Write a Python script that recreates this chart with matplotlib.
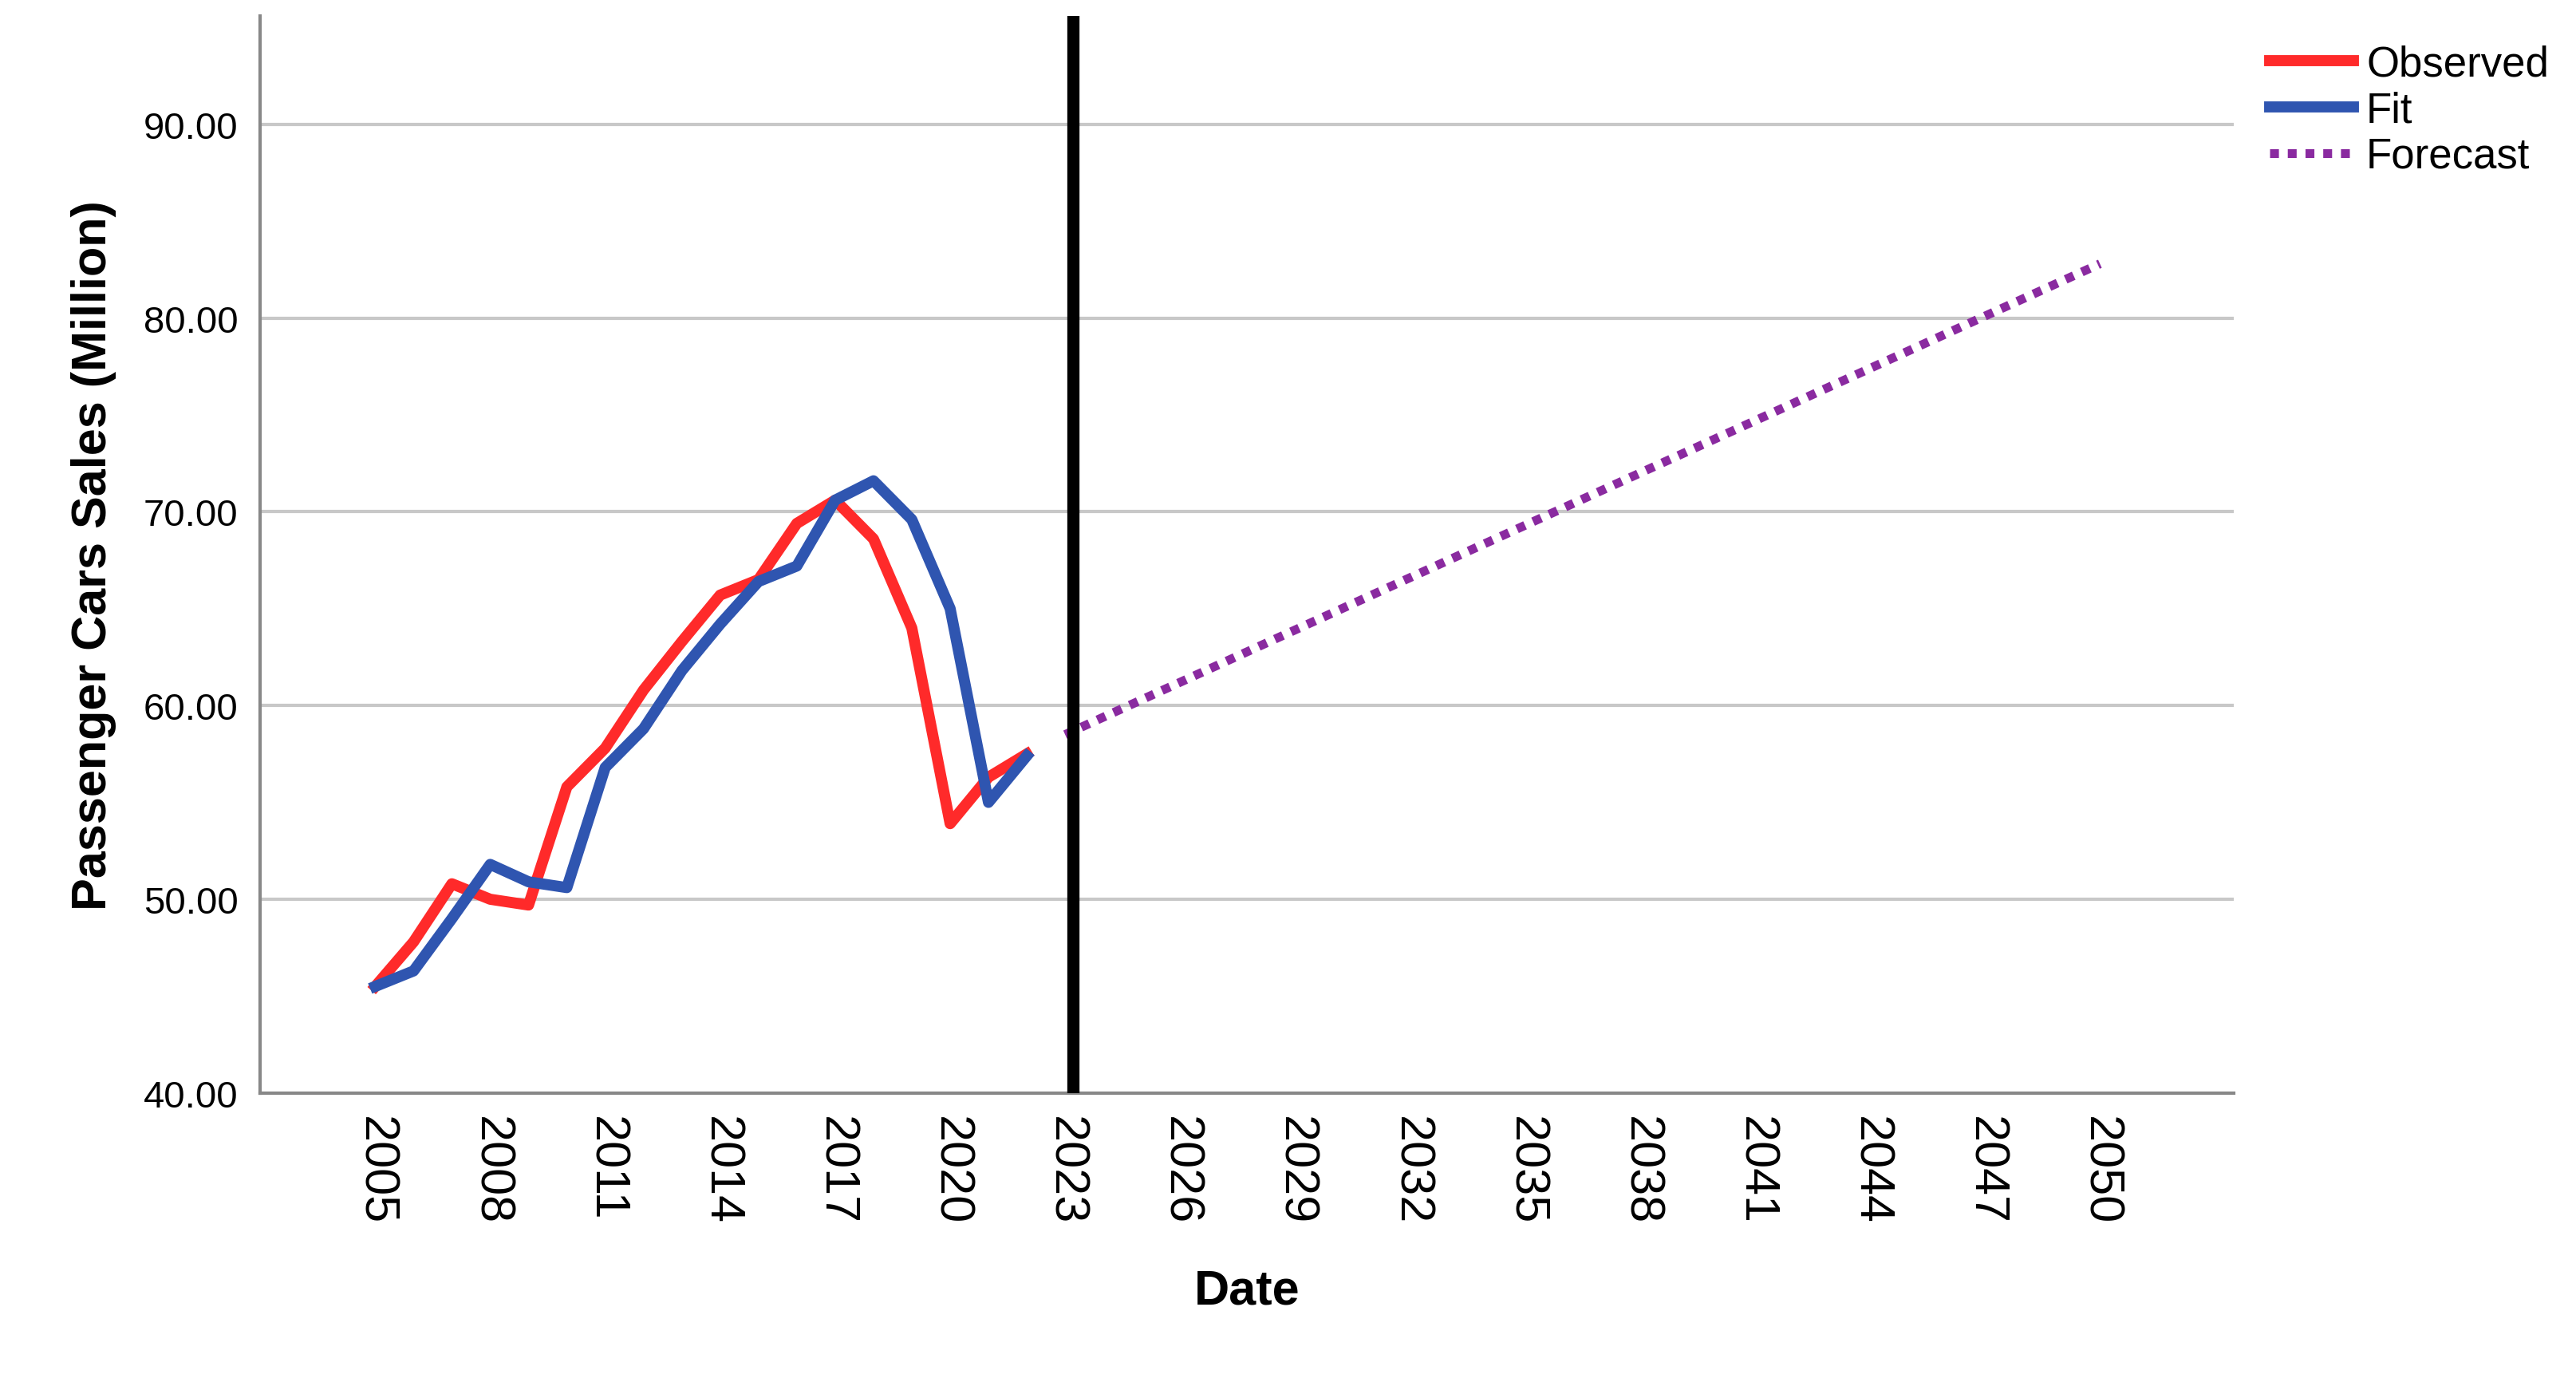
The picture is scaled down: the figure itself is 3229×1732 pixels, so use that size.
import matplotlib
matplotlib.use("Agg")
import matplotlib.pyplot as plt

plt.rcParams['font.family'] = ['Liberation Sans', 'DejaVu Sans']

years = list(range(2005, 2023))
observed = [45.5, 47.8, 50.8, 50.0, 49.7, 55.8, 57.8, 60.8, 63.3, 65.7, 66.5, 69.4, 70.6, 68.6, 64.0, 53.9, 56.3, 57.5]
fit = [45.5, 46.3, 49.0, 51.8, 50.9, 50.6, 56.8, 58.8, 61.8, 64.2, 66.4, 67.2, 70.6, 71.6, 69.6, 65.0, 55.0, 57.4]
fc_years = [2023, 2050]
forecast = [58.5, 82.8]
xticks = list(range(2005, 2051, 3))
yticks = [40, 50, 60, 70, 80, 90]

fig = plt.figure(figsize=(16.15, 8.665), dpi=200)
ax = fig.add_axes([0.101, 0.209, 0.766, 0.779])
for y in yticks[1:]:
    ax.axhline(y, color="#c8c8c8", lw=1.5, zorder=0)
ax.plot(years, observed, color="#ff2a2a", lw=5, label="Observed", zorder=3)
ax.plot(years, fit, color="#2f55b0", lw=5, label="Fit", zorder=3)
ax.plot(fc_years, forecast, color="#8a2aa0", lw=4, ls=(0, (1, 1)), label="Forecast", zorder=3)
ax.axvline(2023.2, color="black", lw=5.5, zorder=4)
ax.set_xlim(2002, 2053.5)
ax.set_ylim(40, 95.6)
ax.set_xticks(xticks)
ax.set_xticklabels([str(x) for x in xticks], rotation=270, fontsize=22)
ax.set_yticks(yticks)
ax.set_yticklabels([f"{v:.2f}" for v in yticks], fontsize=17)
ax.tick_params(length=0, pad=10)
for s in ["top", "right"]:
    ax.spines[s].set_visible(False)
for s in ["left", "bottom"]:
    ax.spines[s].set_color("#888888")
    ax.spines[s].set_linewidth(1.5)
ax.set_xlabel("Date", fontsize=22, fontweight="bold", labelpad=20)
ax.set_ylabel("Passenger Cars Sales (Million)", fontsize=22, fontweight="bold", labelpad=12)
fig.legend(loc="upper left", bbox_to_anchor=(0.866, 0.995), frameon=False, fontsize=19,
           handlelength=2.0, labelspacing=0.15, handletextpad=0.3)
fig.savefig("out.png", dpi=200)
